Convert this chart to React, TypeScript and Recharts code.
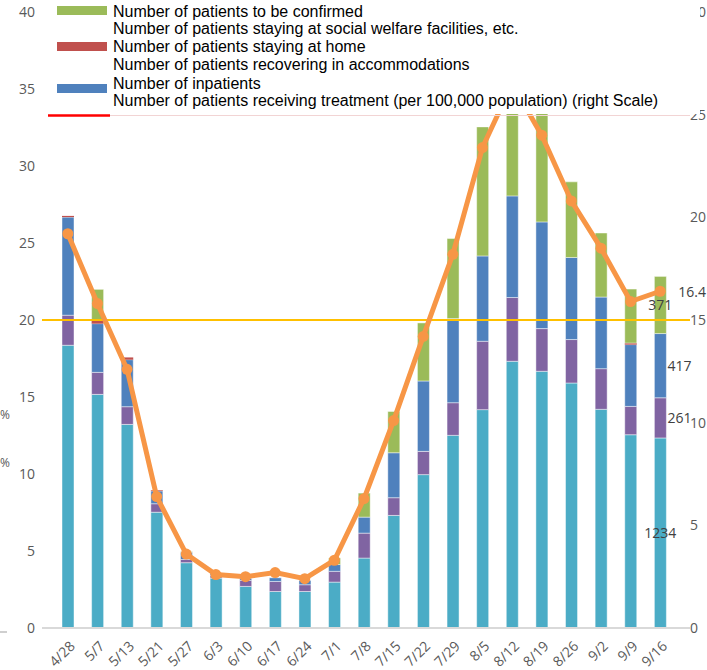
import { ComposedChart, Bar, Line, XAxis, YAxis, ReferenceLine, LabelList } from 'recharts'

const dates = ['4/28', '5/7', '5/13', '5/21', '5/27', '6/3', '6/10', '6/17', '6/24', '7/1', '7/8', '7/15', '7/22', '7/29', '8/5', '8/12', '8/19', '8/26', '9/2', '9/9', '9/16']

// stacked segments, bottom to top (persons; left axis is in hundreds)
const inpatients = [1836, 1517, 1322, 752, 424, 324, 270, 237, 237, 298, 454, 731, 996, 1251, 1418, 1732, 1667, 1591, 1420, 1255, 1234]
const accommodations = [195, 143, 115, 55, 21, 18, 39, 65, 44, 70, 162, 115, 151, 212, 444, 414, 277, 282, 264, 184, 261]
const home = [637, 316, 305, 82, 47, 15, 13, 24, 28, 44, 104, 292, 457, 546, 554, 660, 693, 533, 465, 401, 417]
const welfare = [8, 26, 15, 5, 0, 0, 0, 0, 0, 0, 0, 0, 0, 0, 0, 0, 0, 0, 0, 10, 0]
const confirming = [0, 197, 0, 0, 4, 0, 0, 0, 0, 43, 156, 268, 377, 520, 838, 883, 704, 491, 416, 351, 371]

// per 100,000 population (right scale)
const per100k = [19.2, 15.8, 12.6, 6.4, 3.6, 2.6, 2.5, 2.7, 2.4, 3.3, 6.3, 10.1, 14.2, 18.2, 23.4, 26.5, 24.0, 20.8, 18.5, 15.9, 16.4]

const leftTicks = [0, 500, 1000, 1500, 2000, 2500, 3000, 3500, 4000]
const rightTicks = [0, 5, 10, 15, 20, 25, 30]
const threshold = 15

const legendLines = [
  'Number of patients to be confirmed',
  'Number of patients staying at social welfare facilities, etc.',
  'Number of patients staying at home',
  'Number of patients recovering in accommodations',
  'Number of inpatients',
  'Number of patients receiving treatment (per 100,000 population) (right Scale)',
]

const data = dates.map((d, i) => ({
  date: d,
  inpatients: inpatients[i],
  accommodations: accommodations[i],
  home: home[i],
  welfare: welfare[i],
  confirming: confirming[i],
  rate: per100k[i],
}))

const last = dates.length - 1
const tickFont = { fontSize: 14, fill: '#595959', fontFamily: 'Open Sans' }
const legendFont = 'Liberation Sans'

function DateTick(props: any) {
  const { x, y, payload } = props
  return (
    <g transform={`translate(${x + 8},${y + 17})`}>
      <text textAnchor="end" transform="rotate(-45)" {...tickFont}>
        {payload.value}
      </text>
    </g>
  )
}

// labels only on the last bar (the last value of each series)
function segLabel(series: number[], side: 'center' | 'right') {
  return (props: any) => {
    const { x, y, width, height, value } = props
    if (value !== series[last]) return null
    const cx = side === 'center' ? x + width / 2 : x + width + 1
    return (
      <text x={cx} y={y + height / 2} dy="0.35em" textAnchor={side === 'center' ? 'middle' : 'start'} fontSize={14} fill="#404040" fontFamily="Open Sans">
        {value}
      </text>
    )
  }
}

function rateLabel(props: any) {
  const { x, y, value, index } = props
  if (index !== last) return null
  return (
    <text x={x + 18} y={y + 1} dy="0.35em" fontSize={14} fill="#404040" fontFamily="Open Sans">
      {value}
    </text>
  )
}

export default function App() {
  return (
    <div style={{ position: 'absolute', left: 0, top: 0, width: 707, height: 670, background: '#fff', overflow: 'hidden' }}>
      <ComposedChart width={707} height={670} data={data} margin={{ top: 12, right: 0, bottom: 0, left: 0 }}>
        <XAxis
          dataKey="date"
          height={42}
          padding={{ left: 11, right: 15 }}
          tickSize={0}
          tickLine={false}
          axisLine={{ stroke: '#d9d9d9', strokeWidth: 2 }}
          interval={0}
          tick={<DateTick />}
        />
        <YAxis
          yAxisId="left"
          width={42}
          domain={[0, 4000]}
          ticks={leftTicks}
          tickFormatter={(v: number) => String(v / 100)}
          axisLine={false}
          tickLine={false}
          tickSize={0}
          tickMargin={7}
          tick={tickFont}
        />
        <YAxis
          yAxisId="right"
          orientation="right"
          width={17}
          domain={[0, 30]}
          ticks={rightTicks}
          axisLine={false}
          tickLine={false}
          tickSize={0}
          tickMargin={0}
          tick={tickFont}
        />
        <Bar yAxisId="left" dataKey="inpatients" stackId="s" fill="#4BACC6" stroke="rgba(255,255,255,0.45)" barSize={12} isAnimationActive={false}>
          <LabelList dataKey="inpatients" content={segLabel(inpatients, 'center')} />
        </Bar>
        <Bar yAxisId="left" dataKey="accommodations" stackId="s" fill="#8064A2" stroke="rgba(255,255,255,0.45)" barSize={12} isAnimationActive={false}>
          <LabelList dataKey="accommodations" content={segLabel(accommodations, 'right')} />
        </Bar>
        <Bar yAxisId="left" dataKey="home" stackId="s" fill="#4F81BD" stroke="rgba(255,255,255,0.45)" barSize={12} isAnimationActive={false}>
          <LabelList dataKey="home" content={segLabel(home, 'right')} />
        </Bar>
        <Bar yAxisId="left" dataKey="welfare" stackId="s" fill="#C0504D" barSize={12} isAnimationActive={false} />
        <Bar yAxisId="left" dataKey="confirming" stackId="s" fill="#9BBB59" stroke="rgba(255,255,255,0.45)" barSize={12} isAnimationActive={false}>
          <LabelList dataKey="confirming" content={segLabel(confirming, 'center')} />
        </Bar>
        <ReferenceLine yAxisId="right" y={threshold} stroke="#FFC000" strokeWidth={2} />
        <Line
          yAxisId="right"
          dataKey="rate"
          stroke="#F79646"
          strokeWidth={5}
          dot={{ r: 5.5, fill: '#F79646', stroke: '#F79646', strokeWidth: 0 }}
          isAnimationActive={false}
        >
          <LabelList dataKey="rate" content={rateLabel} />
        </Line>
      </ComposedChart>
      <svg width={707} height={670} style={{ position: 'absolute', left: 0, top: 0, pointerEvents: 'none' }}>
        <rect x={44} y={0} width={656} height={114} fill="#fff" />
        <line x1={110} x2={690} y1={115.5} y2={115.5} stroke="#f2d4d4" strokeWidth={1} />
        <line x1={48} x2={110} y1={115.5} y2={115.5} stroke="#FF0000" strokeWidth={2.5} />
        <rect x={57} y={6} width={50} height={9} fill="#9BBB59" />
        <rect x={57} y={42} width={50} height={9} fill="#C0504D" />
        <rect x={57} y={84} width={50} height={9} fill="#4F81BD" />
        {legendLines.map((t, i) => (
          <text key={t} x={113} y={[11, 28, 46, 64, 83, 100][i]} dy="0.35em" fontSize={16} fontFamily={legendFont} fill="#000">
            {t}
          </text>
        ))}
        <text x={0} y={415} dy="0.35em" fontSize={12} fill="#595959" fontFamily="Open Sans">%</text>
        <text x={0} y={463} dy="0.35em" fontSize={12} fill="#595959" fontFamily="Open Sans">%</text>
        <line x1={0} x2={7} y1={632} y2={632} stroke="#bfbfbf" strokeWidth={1.5} />
      </svg>
    </div>
  )
}
